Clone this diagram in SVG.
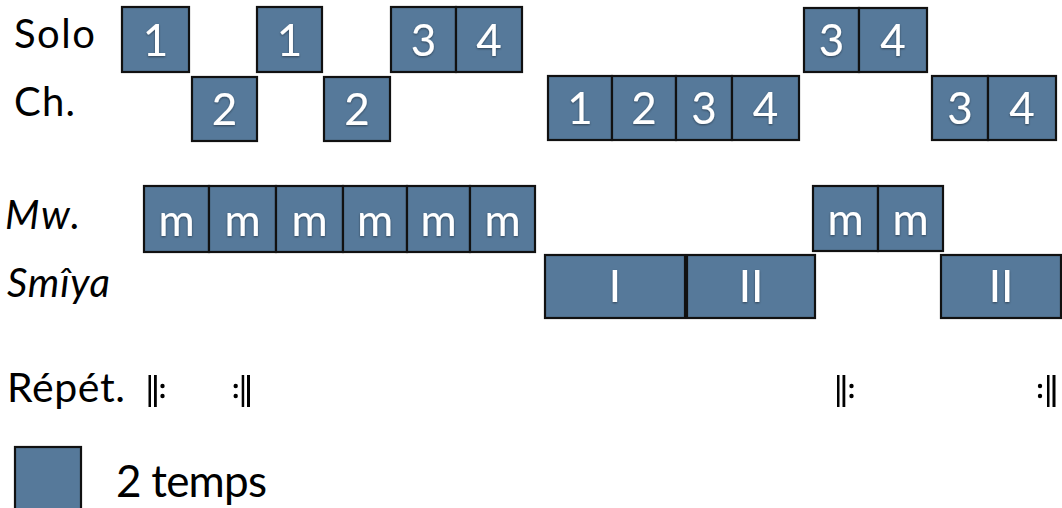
<svg xmlns="http://www.w3.org/2000/svg" width="1062" height="508" viewBox="0 0 1062 508">
<defs>
<filter id="sh" x="-20%" y="-20%" width="140%" height="140%"><feDropShadow dx="0" dy="1" stdDeviation="1" flood-color="#000" flood-opacity="0.45"/></filter>
</defs>
<style>
.b{fill:#56799a;stroke:#111;stroke-width:2.2}
.t{font-family:Lato,"Open Sans",sans-serif;font-size:44px;fill:#fff;text-anchor:middle;filter:url(#sh)}
.l{font-family:Lato,"Open Sans",sans-serif;font-size:40px;fill:#000}
.i{font-style:italic}
.bar{fill:#000}
</style>
<rect width="1062" height="508" fill="#fff"/>
<g id="labels">
<text class="l" x="14" y="48" textLength="81">Solo</text>
<text class="l" x="14" y="116" textLength="61">Ch.</text>
<text class="l i" x="5" y="229" textLength="75">Mw.</text>
<text class="l i" x="7" y="297" textLength="103">Smîya</text>
<text class="l" x="7" y="402" style="font-size:41px" textLength="118">Répét.</text>
<text class="l" x="116" y="497" style="font-size:44px" textLength="151">2 temps</text>
</g>
<g id="solo">
<g id="s1"><rect class="b" x="122" y="7" width="67" height="65"/><text class="t" x="155.5" y="55.5">1</text></g>
<g id="s2"><rect class="b" x="257" y="7" width="65" height="65"/><text class="t" x="289.5" y="55.5">1</text></g>
<g id="s3"><rect class="b" x="391" y="7" width="65" height="65"/><text class="t" x="423.5" y="55.5">3</text></g>
<g id="s4"><rect class="b" x="456" y="7" width="66" height="65"/><text class="t" x="489" y="55.5">4</text></g>
<g id="s5"><rect class="b" x="804" y="8" width="55" height="64"/><text class="t" x="831.5" y="56">3</text></g>
<g id="s6"><rect class="b" x="859" y="8" width="68" height="64"/><text class="t" x="893" y="56">4</text></g>
</g>
<g id="choeur">
<g id="c1"><rect class="b" x="192" y="77" width="65" height="64"/><text class="t" x="224.5" y="125">2</text></g>
<g id="c2"><rect class="b" x="324" y="77" width="66" height="64"/><text class="t" x="357" y="125">2</text></g>
<g id="c3"><rect class="b" x="548" y="76" width="64" height="64"/><text class="t" x="580" y="124">1</text></g>
<g id="c4"><rect class="b" x="612" y="76" width="64" height="64"/><text class="t" x="644" y="124">2</text></g>
<g id="c5"><rect class="b" x="676" y="76" width="56" height="64"/><text class="t" x="704" y="124">3</text></g>
<g id="c6"><rect class="b" x="732" y="76" width="67" height="64"/><text class="t" x="765.5" y="124">4</text></g>
<g id="c7"><rect class="b" x="932" y="76" width="56" height="64"/><text class="t" x="960" y="124">3</text></g>
<g id="c8"><rect class="b" x="988" y="76" width="68" height="64"/><text class="t" x="1022" y="124">4</text></g>
</g>
<g id="mw">
<g id="m1"><rect class="b" x="144" y="186" width="65" height="66"/><text class="t" x="176.5" y="236">m</text></g>
<g id="m2"><rect class="b" x="209" y="186" width="67" height="66"/><text class="t" x="242.5" y="236">m</text></g>
<g id="m3"><rect class="b" x="276" y="186" width="67" height="66"/><text class="t" x="309.5" y="236">m</text></g>
<g id="m4"><rect class="b" x="343" y="186" width="64" height="66"/><text class="t" x="375" y="236">m</text></g>
<g id="m5"><rect class="b" x="407" y="186" width="63" height="66"/><text class="t" x="438.5" y="236">m</text></g>
<g id="m6"><rect class="b" x="470" y="186" width="65" height="66"/><text class="t" x="502.5" y="236">m</text></g>
<g id="m7"><rect class="b" x="813" y="186" width="65" height="65"/><text class="t" x="845.5" y="235">m</text></g>
<g id="m8"><rect class="b" x="878" y="186" width="65" height="65"/><text class="t" x="910.5" y="235">m</text></g>
</g>
<g id="smiya">
<g id="y1"><rect class="b" x="545" y="255" width="140" height="63"/><text class="t" x="615" y="302">I</text></g>
<g id="y2"><rect class="b" x="687" y="255" width="128" height="63"/><text class="t" x="751" y="302">II</text></g>
<g id="y3"><rect class="b" x="941" y="255" width="120" height="63"/><text class="t" x="1001" y="302">II</text></g>
</g>
<g id="repeats">
<g id="r1"><rect class="bar" x="148.5" y="375" width="2.5" height="32"/><rect class="bar" x="154" y="375" width="2.8" height="32"/><circle cx="162.5" cy="386" r="2.2"/><circle cx="162.5" cy="396" r="2.2"/></g>
<g id="r2"><circle cx="235.7" cy="386" r="2.2"/><circle cx="235.7" cy="396" r="2.2"/><rect class="bar" x="241.7" y="375" width="2.5" height="32"/><rect class="bar" x="247" y="375" width="3" height="32"/></g>
<g id="r3"><rect class="bar" x="837" y="375" width="2.5" height="32"/><rect class="bar" x="842.5" y="375" width="2.8" height="32"/><circle cx="851.5" cy="386" r="2.2"/><circle cx="851.5" cy="396" r="2.2"/></g>
<g id="r4"><circle cx="1040" cy="386" r="2.2"/><circle cx="1040" cy="396" r="2.2"/><rect class="bar" x="1047" y="375" width="2.5" height="32"/><rect class="bar" x="1052.5" y="375" width="3" height="32"/></g>
</g>
<g id="legend"><rect class="b" x="15" y="447" width="66" height="66"/></g>
</svg>
